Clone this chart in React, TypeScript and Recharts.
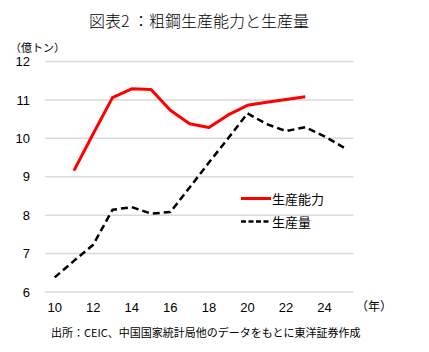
import { CartesianGrid, Legend, Line, LineChart, XAxis, YAxis } from 'recharts';

// 粗鋼：生産能力と生産量（億トン）
const years = [2010, 2011, 2012, 2013, 2014, 2015, 2016, 2017, 2018, 2019, 2020, 2021, 2022, 2023, 2024, 2025];
const capacity = [null, 9.16, 10.12, 11.06, 11.29, 11.27, 10.73, 10.38, 10.28, 10.61, 10.86, 10.94, 11.01, 11.08, null, null];
const output = [6.38, 6.81, 7.23, 8.14, 8.21, 8.04, 8.08, 8.72, 9.37, 10.0, 10.65, 10.37, 10.19, 10.29, 10.05, 9.76];

const yearLabels = [2010, 2012, 2014, 2016, 2018, 2020, 2022, 2024];
const yearMarks = [2009.5, 2011.5, 2013.5, 2015.5, 2017.5, 2019.5, 2021.5, 2023.5, 2025.5];
const valueTicks = [6, 7, 8, 9, 10, 11, 12];

const series = [
  { key: 'capacity', name: '生産能力', color: '#ff0000', width: 3, dash: undefined, legendDash: undefined },
  { key: 'output', name: '生産量', color: '#000000', width: 2.5, dash: '7 4', legendDash: '5 2.5' },
];

const data = years.map((year, i) => ({ year, capacity: capacity[i], output: output[i] }));

const jp = '"Noto Sans CJK JP", sans-serif';
const num = '"Liberation Sans", Arial, sans-serif';

function SeriesLegend() {
  return (
    <div style={{ fontFamily: jp, fontSize: 13, color: '#000' }}>
      {series.map((s) => (
        <div key={s.key} style={{ display: 'flex', alignItems: 'center', height: 23 }}>
          <svg width={30} height={23} style={{ display: 'block' }}>
            <line x1={0} y1={11.5} x2={30} y2={11.5} stroke={s.color} strokeWidth={s.width} strokeDasharray={s.legendDash} />
          </svg>
          <span style={{ marginLeft: 1 }}>{s.name}</span>
        </div>
      ))}
    </div>
  );
}

export default function App() {
  return (
    <div style={{ position: 'absolute', left: 0, top: 0, width: 429, height: 352, background: '#fff', fontFamily: jp, color: '#000' }}>
      <div style={{ position: 'absolute', left: 0, top: 10, width: 398, textAlign: 'center', fontSize: 16, lineHeight: '20px', fontWeight: 300 }}>
        図表2 ：粗鋼生産能力と生産量
      </div>
      <div style={{ position: 'absolute', left: 10, top: 40, fontSize: 11, lineHeight: '14px' }}>（億トン）</div>
      <LineChart width={429} height={352} data={data} margin={{ top: 61.5, right: 75.5, bottom: 0, left: 0 }}>
        <CartesianGrid vertical={false} stroke="#d9d9d9" strokeWidth={1.5} />
        <XAxis
          xAxisId="marks"
          dataKey="year"
          type="number"
          domain={[2009.5, 2025.5]}
          ticks={yearMarks}
          tick={false}
          height={0}
          axisLine={false}
          tickLine={{ stroke: '#d9d9d9', strokeWidth: 1.5 }}
          tickSize={5}
        />
        <XAxis
          xAxisId="years"
          dataKey="year"
          type="number"
          domain={[2009.5, 2025.5]}
          ticks={yearLabels}
          tickFormatter={(v) => String(v % 100)}
          height={60}
          axisLine={false}
          tickLine={false}
          tickSize={0}
          tickMargin={11}
          tick={{ fontSize: 13, fill: '#000', fontFamily: num }}
        />
        <YAxis
          domain={[6, 12]}
          ticks={valueTicks}
          width={45}
          axisLine={false}
          tickLine={false}
          tickSize={0}
          tickMargin={15}
          tick={{ fontSize: 13, fill: '#000', fontFamily: num }}
        />
        <Legend
          layout="vertical"
          align="center"
          verticalAlign="middle"
          wrapperStyle={{ left: 241, top: 187, width: 'auto' }}
          content={() => <SeriesLegend />}
        />
        {series.map((s) => (
          <Line
            key={s.key}
            xAxisId="years"
            dataKey={s.key}
            name={s.name}
            type="linear"
            stroke={s.color}
            strokeWidth={s.width}
            strokeDasharray={s.dash}
            strokeLinejoin="round"
            dot={false}
            activeDot={false}
            connectNulls={false}
            isAnimationActive={false}
          />
        ))}
      </LineChart>
      <div style={{ position: 'absolute', left: 356, top: 299, fontSize: 12, lineHeight: '14px' }}>（年）</div>
      <div style={{ position: 'absolute', left: 51, top: 325, fontSize: 11, lineHeight: '14px' }}>
        出所：CEIC、中国国家統計局他のデータをもとに東洋証券作成
      </div>
    </div>
  );
}
